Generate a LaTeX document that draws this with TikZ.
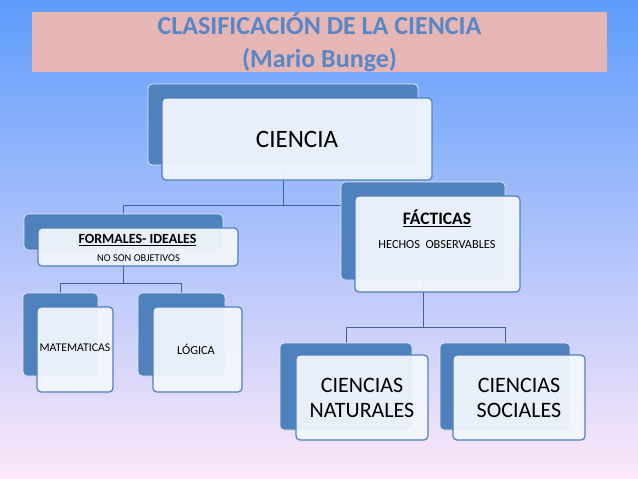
\documentclass[tikz,border=0pt]{standalone}
\usepackage{fontspec}
\setmainfont{Carlito}
\usetikzlibrary{positioning}
\definecolor{bgtop}{RGB}{94,156,251}
\definecolor{bgmid}{RGB}{178,205,240}
\definecolor{bgbot}{RGB}{253,232,249}
\definecolor{titlepink}{RGB}{230,182,181}
\definecolor{titleblue}{RGB}{88,135,200}
\definecolor{boxblue}{RGB}{79,129,189}
\definecolor{boxedge}{RGB}{225,234,246}
\definecolor{frontfill}{RGB}{242,246,252}
\definecolor{linkblue}{RGB}{60,100,150}
\pgfdeclarelayer{bg}
\pgfdeclarelayer{lines}
\pgfsetlayers{bg,lines,main}
\tikzset{
  backbox/.style={draw=boxedge,fill=boxblue,rounded corners=4pt,line width=0.8pt,inner sep=0pt},
  frontbox/.style={draw=boxblue,fill=frontfill,fill opacity=0.94,text opacity=1,rounded corners=4pt,line width=1.2pt,inner sep=0pt,align=center},
  link/.style={draw=linkblue,line width=0.9pt}
}
\begin{document}
\begin{tikzpicture}[x=1pt,y=-1pt]
    \useasboundingbox (0,0) rectangle (638,479);
    % background
    \begin{pgfonlayer}{bg}
    \shade[top color=bgtop,middle color=bgmid,bottom color=bgbot] (0,0) rectangle (638,479);
    \end{pgfonlayer}
    % title
    \node[fill=titlepink,minimum width=575,minimum height=58,inner sep=0pt,align=center,
          text=titleblue,font=\bfseries\fontsize{26}{33}\selectfont] (title) at (319.5,42)
          {CLASIFICACIÓN DE LA CIENCIA\\(Mario Bunge)};
    % top level
    \node[backbox,minimum width=270,minimum height=81] (cienciaB) at (283,124.5) {};
    \node[frontbox,minimum width=270,minimum height=82,font=\fontsize{25}{30}\selectfont] (cienciaF) at (297,139) {CIENCIA};
    % second level
    \node[backbox,minimum width=199,minimum height=36] (formalB) at (123.5,232) {};
    \node[frontbox,minimum width=200,minimum height=38] (formalF) at (138,247) {};
    \node[font=\bfseries\fontsize{14}{16}\selectfont] (formalT) at (137.5,240) {\underline{FORMALES- IDEALES}};
    \node[font=\fontsize{10.4}{12}\selectfont] (formalS) at (138.5,258) {NO SON OBJETIVOS};
    \node[backbox,minimum width=164,minimum height=98] (factB) at (423,231) {};
    \node[frontbox,minimum width=165,minimum height=96] (factF) at (437.5,244) {};
    \node[font=\bfseries\fontsize{17.5}{20}\selectfont] (factT) at (437,218) {\underline{FÁCTICAS}};
    \node[font=\fontsize{12.3}{14}\selectfont] (factS) at (437,245) {HECHOS\ \ OBSERVABLES};
    % third level, left
    \node[backbox,minimum width=75,minimum height=83] (mateB) at (60.5,334.5) {};
    \node[frontbox,minimum width=76,minimum height=85] (mateF) at (75,349.5) {};
    \node[font=\fontsize{11.8}{13}\selectfont] (mateT) at (75,348) {MATEMATICAS};
    \node[backbox,minimum width=87,minimum height=83] (logicaB) at (181.5,334.5) {};
    \node[frontbox,minimum width=89,minimum height=85] (logicaF) at (197.5,349.5) {};
    \node[font=\fontsize{12.3}{14}\selectfont] (logicaT) at (196,349) {LÓGICA};
    % third level, right
    \node[backbox,minimum width=132,minimum height=87] (natB) at (346,386.5) {};
    \node[frontbox,minimum width=132,minimum height=85,font=\fontsize{22}{25}\selectfont] (natF) at (362,397.5) {CIENCIAS\\NATURALES};
    \node[backbox,minimum width=130,minimum height=87] (socB) at (505,386.5) {};
    \node[frontbox,minimum width=132,minimum height=85,font=\fontsize{22}{25}\selectfont] (socF) at (519,397.5) {CIENCIAS\\SOCIALES};
    % connectors
    \coordinate (splitA) at (283,205);
    \coordinate (splitB) at (123.5,283);
    \coordinate (splitC) at (423,327);
    \begin{pgfonlayer}{lines}
    \draw[link] (cienciaB.south) -- (splitA) -| (formalB.north);
    \draw[link] (splitA) -| (factB.north);
    \draw[link] (formalB.south) -- (splitB) -| (mateB.north);
    \draw[link] (splitB) -| (logicaB.north);
    \draw[link] (factB.south) -- (splitC) -| (natB.north);
    \draw[link] (splitC) -| (socB.north);
    \end{pgfonlayer}
\end{tikzpicture}
\end{document}
